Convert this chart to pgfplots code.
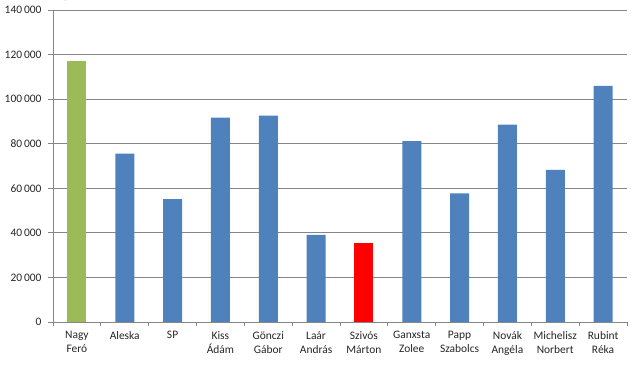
\documentclass[border=0pt]{standalone}
\usepackage{fontspec}
\setmainfont{Carlito}
\usepackage{pgfplots}
\pgfplotsset{compat=1.18}
\definecolor{barblue}{HTML}{4F81BD}
\definecolor{bargreen}{HTML}{9BBB59}
\definecolor{gridgray}{RGB}{134,134,134}
\begin{document}
\begin{tikzpicture}
\useasboundingbox (-53bp,-48bp) rectangle (591bp,322bp);
\begin{axis}[
  at={(0,0)}, anchor=south west,
  scale only axis, width=574bp, height=312bp,
  xmin=-0.5, xmax=11.5, ymin=0, ymax=140000,
  axis lines*=left,
  axis line style={gridgray, line width=0.8pt},
  ytick={0,20000,...,140000},
  yticklabels={0,20\,000,40\,000,60\,000,80\,000,100\,000,120\,000,140\,000},
  ymajorgrids, grid style={gridgray, line width=0.8pt},
  xtick={0,...,11},
  xticklabels={{Nagy\\Feró},{Aleska},{SP},{Kiss\\Ádám},{Gönczi\\Gábor},{Laár\\András},{Szivós\\Márton},{Ganxsta\\Zolee},{Papp\\Szabolcs},{Novák\\Angéla},{Michelisz\\Norbert},{Rubint\\Réka}},
  major x tick style={draw=none},
  minor xtick={-0.5,0.5,...,11.5},
  minor tick length=4bp,
  major tick length=5bp,
  tick align=outside,
  tick style={gridgray, line width=0.8pt},
  every tick label/.append style={font=\fontsize{11.5}{14}\selectfont, text=black!85},
  xticklabel style={align=center, yshift=-1bp},
  yticklabel style={xshift=-3bp, inner ysep=1bp},
  ybar, bar width=19bp, bar shift=0pt,
]
\addplot[fill=bargreen, draw=none] coordinates {(0,116900)};
\addplot[fill=barblue, draw=none] coordinates {(1,75600) (2,55150) (3,91700) (4,92600) (5,39050) (7,81200) (8,57700) (9,88550) (10,68250) (11,106000)};
\addplot[fill=red, draw=none] coordinates {(6,35450)};
\end{axis}
\end{tikzpicture}
\end{document}
